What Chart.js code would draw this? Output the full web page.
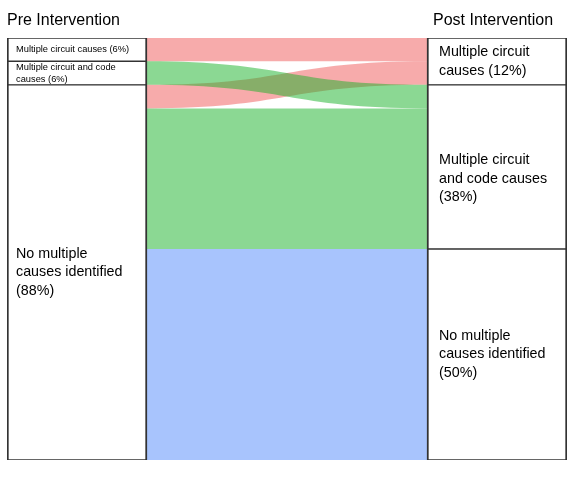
<!DOCTYPE html>
<html>
<head>
<meta charset="utf-8">
<script src="https://cdn.jsdelivr.net/npm/chart.js@4"></script>
<style>
  body { margin: 0; background: #fff; }
</style>
</head>
<body>
<canvas id="sankeyChart" width="583" height="477"></canvas>
<script>
// nodes on each side, top to bottom
const preLabels = [
  ["Multiple circuit causes (6%)"],
  ["Multiple circuit and code", "causes (6%)"],
  ["No multiple", "causes identified", "(88%)"],
];
const postLabels = [
  ["Multiple circuit", "causes (12%)"],
  ["Multiple circuit", "and code causes", "(38%)"],
  ["No multiple", "causes identified", "(50%)"],
];

// flows, share of all cases
const flowFrom = [0, 1, 2, 2, 2];
const flowTo = [0, 1, 0, 1, 2];
const flowValue = [5.5, 5.6, 5.6, 33.3, 50];

const flowColors = ["rgba(239,87,87,0.5)", "rgba(23,177,39,0.5)", "rgba(81,137,251,0.5)"];
const drawOrder = [0, 2, 1, 3, 4];
const font = "'Liberation Sans', Arial, sans-serif";

function nodeTotals(keys) {
  const totals = [0, 0, 0];
  keys.forEach((k, i) => (totals[k] += flowValue[i]));
  return totals;
}

function stackNodes(totals, xVal) {
  let start = 0;
  return totals.map((t) => {
    const bar = { x: xVal, y: [start, start + t] };
    start += t;
    return bar;
  });
}

const preNodes = stackNodes(nodeTotals(flowFrom), 0.5);
const postNodes = stackNodes(nodeTotals(flowTo), 3.5);

const sankeyPlugin = {
  id: "sankey",
  beforeDatasetsDraw(chart) {
    const ctx = chart.ctx;
    const xs = chart.scales.x;
    const ys = chart.scales.y;
    const x0 = xs.getPixelForValue(1);
    const x1 = xs.getPixelForValue(3);
    const xm = (x0 + x1) / 2;

    // where each flow leaves / enters its node
    const outPos = preNodes.map((n) => n.y[0]);
    const inPos = postNodes.map((n) => n.y[0]);
    const bands = flowValue.map(() => ({}));
    flowValue.forEach((v, i) => {
      bands[i].a = outPos[flowFrom[i]];
      outPos[flowFrom[i]] += v;
    });
    const bySource = flowValue.map((v, i) => i).sort((a, b) => flowFrom[a] - flowFrom[b]);
    bySource.forEach((i) => {
      bands[i].b = inPos[flowTo[i]];
      inPos[flowTo[i]] += flowValue[i];
    });

    ctx.save();
    drawOrder.forEach((i) => {
      const v = flowValue[i];
      const a0 = ys.getPixelForValue(bands[i].a);
      const a1 = ys.getPixelForValue(bands[i].a + v);
      const b0 = ys.getPixelForValue(bands[i].b);
      const b1 = ys.getPixelForValue(bands[i].b + v);
      ctx.beginPath();
      ctx.moveTo(x0, a0);
      ctx.bezierCurveTo(xm, a0, xm, b0, x1, b0);
      ctx.lineTo(x1, b1);
      ctx.bezierCurveTo(xm, b1, xm, a1, x0, a1);
      ctx.closePath();
      ctx.fillStyle = flowColors[flowTo[i]];
      ctx.fill();
    });
    ctx.restore();
  },
  afterDatasetsDraw(chart) {
    const ctx = chart.ctx;
    const xs = chart.scales.x;
    const ys = chart.scales.y;
    ctx.save();
    ctx.fillStyle = "#000";
    ctx.textAlign = "left";

    ctx.font = "16px " + font;
    ctx.textBaseline = "alphabetic";
    ctx.fillText("Pre Intervention", 7, 25);
    ctx.fillText("Post Intervention", 433, 25);

    ctx.textBaseline = "middle";
    const drawLabels = (nodes, labels, xText, sizes, shifts) => {
      nodes.forEach((n, i) => {
        const size = sizes[i];
        const lh = size * 1.3;
        const mid = (ys.getPixelForValue(n.y[0]) + ys.getPixelForValue(n.y[1])) / 2 + shifts[i];
        ctx.font = size + "px " + font;
        labels[i].forEach((line, j) => {
          ctx.fillText(line, xText, mid + (j - (labels[i].length - 1) / 2) * lh);
        });
      });
    };
    drawLabels(preNodes, preLabels, xs.getPixelForValue(0) + 9, [9.3, 9.3, 14.3], [0, 0, 0]);
    drawLabels(postNodes, postLabels, xs.getPixelForValue(3) + 12, [14.3, 14.3, 14.3], [0, 12, 0]);
    ctx.restore();
  },
};

new Chart(document.getElementById("sankeyChart"), {
  type: "bar",
  data: {
    datasets: [
      {
        data: [...preNodes, ...postNodes],
        backgroundColor: "#fff",
        borderColor: "#333",
        borderWidth: { left: 2, right: 2, top: 1, bottom: 1 },
        borderSkipped: false,
        barThickness: 140,
      },
    ],
  },
  options: {
    responsive: false,
    animation: false,
    devicePixelRatio: 1,
    layout: { padding: { left: 7, right: 16, top: 38, bottom: 17 } },
    scales: {
      x: { type: "linear", min: 0, max: 4, offset: false, display: false },
      y: { min: 0, max: 100, reverse: true, display: false },
    },
    plugins: { legend: { display: false }, tooltip: { enabled: false } },
  },
  plugins: [sankeyPlugin],
});
</script>
</body>
</html>
